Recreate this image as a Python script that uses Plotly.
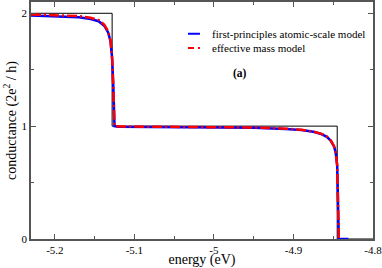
import plotly.graph_objects as go

# ideal step conductance
step_energy = [-5.23, -5.128, -5.128, -4.845, -4.845, -4.80]
step_cond = [2, 2, 1, 1, 0, 0]

# first-principles atomic-scale model
fp_energy = [-5.23, -5.2, -5.17, -5.155, -5.145, -5.138, -5.133, -5.130, -5.128, -5.1265,
             -5.1255, -5.125, -5.12, -5.05, -4.95, -4.91, -4.89, -4.875, -4.865, -4.858,
             -4.853, -4.849, -4.847, -4.845, -4.844, -4.8435, -4.843, -4.831]
fp_cond = [1.98, 1.975, 1.965, 1.95, 1.93, 1.89, 1.83, 1.75, 1.6, 1.35,
           1.05, 1.0, 0.995, 0.99, 0.985, 0.975, 0.965, 0.95, 0.93, 0.905,
           0.87, 0.82, 0.77, 0.65, 0.4, 0.15, 0.0, 0.0]

# effective mass model
em_energy = [-5.23, -5.2, -5.17, -5.155, -5.145, -5.138, -5.133, -5.130, -5.128, -5.1265,
             -5.1255, -5.125, -5.12, -5.05, -4.95, -4.91, -4.89, -4.875, -4.865, -4.858,
             -4.853, -4.849, -4.847, -4.845, -4.844, -4.8435, -4.843]
em_cond = [1.99, 1.985, 1.975, 1.96, 1.94, 1.9, 1.84, 1.76, 1.6, 1.35,
           1.05, 1.0, 0.997, 0.993, 0.988, 0.978, 0.968, 0.952, 0.932, 0.907,
           0.872, 0.822, 0.77, 0.65, 0.4, 0.15, 0.0]

series_names = ["first-principles atomic-scale model", "effective mass model"]
series_colors = ["#0000ff", "#ff0000"]

x_tickvals = [-5.2, -5.1, -5.0, -4.9, -4.8]
x_ticktext = ["-5.2", "-5.1", "-5", "-4.9", "-4.8"]
y_tickvals = [0, 1, 2]
y_ticktext = ["0", "1", "2"]

font = "Liberation Serif, Times New Roman, serif"
axcol = "#555555"

fig = go.Figure()
fig.add_trace(go.Scatter(x=step_energy, y=step_cond, mode="lines",
                         line=dict(color="black", width=1), showlegend=False))
fig.add_trace(go.Scatter(x=fp_energy, y=fp_cond, mode="lines",
                         line=dict(color=series_colors[0], width=2.5),
                         name=series_names[0], showlegend=False))
fig.add_trace(go.Scatter(x=em_energy, y=em_cond, mode="lines",
                         line=dict(color=series_colors[1], width=2.5, dash="10px,3px,2px,3px"),
                         name=series_names[1], showlegend=False))

# hand-drawn legend (short line samples like the reference)
legend_y = [0.866, 0.806]
legend_dash = ["solid", "6px,4px,2px,4px"]
for i in range(2):
    fig.add_shape(type="line", xref="paper", yref="paper",
                  x0=0.459, x1=0.494, y0=legend_y[i], y1=legend_y[i],
                  line=dict(color=series_colors[i], width=2, dash=legend_dash[i]))
    fig.add_annotation(x=0.523, y=legend_y[i], xref="paper", yref="paper",
                       xanchor="left", yanchor="middle", text=series_names[i],
                       showarrow=False, font=dict(family=font, size=11, color="black"))

fig.add_annotation(x=0.611, y=0.734, xref="paper", yref="paper",
                   text="<b>(a)</b>", showarrow=False,
                   font=dict(family=font, size=11.5, color="black"))

axis_common = dict(showgrid=False, zeroline=False, showline=True, linecolor=axcol,
                   linewidth=1.5, mirror="allticks", ticks="inside", ticklen=5,
                   tickcolor=axcol, automargin=False, ticklabeloverflow="allow",
                   tickfont=dict(family=font, size=11, color="black"))

fig.update_xaxes(range=[-5.23, -4.80], tickvals=x_tickvals, ticktext=x_ticktext,
                 title=dict(text="energy (eV)", font=dict(family=font, size=14, color="black"),
                            standoff=3),
                 minor=dict(dtick=0.05, tick0=-5.2, ticks="inside", ticklen=3, tickcolor=axcol),
                 **axis_common)
fig.update_yaxes(range=[0, 2.1], tickvals=y_tickvals, ticktext=y_ticktext,
                 title=dict(text="conductance (2e<sup>2</sup> / h)",
                            font=dict(family=font, size=14, color="black"), standoff=2),
                 minor=dict(dtick=0.5, tick0=0, ticks="inside", ticklen=3, tickcolor=axcol),
                 **axis_common)

fig.update_layout(
    width=382, height=268,
    margin=dict(l=31, r=9, t=2, b=29),
    paper_bgcolor="white", plot_bgcolor="white",
    showlegend=False,
)

fig.write_html("out.html", config={"displayModeBar": False},
               post_script="document.body.style.margin='0';document.body.style.padding='0';")
